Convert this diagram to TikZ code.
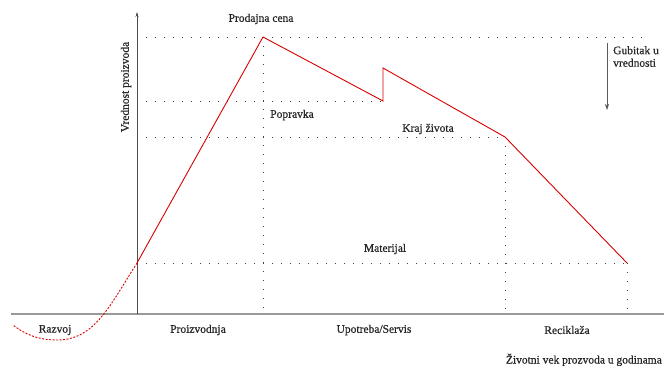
\documentclass[tikz,border=0pt]{standalone}
\usepackage{fontspec}
\setmainfont{Liberation Serif}
\newfontfamily\lblfont{Liberation Serif}[BoldFont={Liberation Serif},BoldFeatures={FakeBold=0.6}]
\usetikzlibrary{arrows.meta}
\begin{document}
\begin{tikzpicture}[x=1pt,y=-1pt,
  lbl/.style={font=\lblfont\bfseries\fontsize{11.5}{12.5}\selectfont, text=black!85, inner sep=1pt},
  guide/.style={line width=1pt, dash pattern=on 1pt off 8pt, black!75},
  curve/.style={red!85!black, line width=0.9pt, line join=miter},
  devcurve/.style={red!85!black, line width=0.9pt, dash pattern=on 2pt off 1.5pt}]
\useasboundingbox (0,0) rectangle (664,368);
% key points
\coordinate (O) at (137,314);
\coordinate (Ytop) at (137,12);
\coordinate (Xl) at (11,314);
\coordinate (Xr) at (664,314);
\coordinate (start) at (137,263);
\coordinate (peak) at (263,37);
\coordinate (rep) at (383,101);
\coordinate (repup) at (383,68);
\coordinate (eol) at (505,137);
\coordinate (mat) at (627,263);
\coordinate (topR) at (645,37);
\coordinate (peakB) at (263,314);
\coordinate (eolB) at (505,314);
\coordinate (matB) at (627,314);
\coordinate (repL) at (137,101);
\coordinate (eolL) at (137,137);
\coordinate (dev) at (13,325);
% guide lines
\draw[guide] (137,37) -- (topR);
\draw[guide] (repL) -- (rep);
\draw[guide] (eolL) -- (eol);
\draw[guide] (start) -- (mat);
\draw[guide] (peak) -- (peakB);
\draw[guide] (eol) -- (eolB);
\draw[guide] (mat) -- (matB);
% axes
\draw[gray!80, line width=1.2pt] (Xl) -- (Xr);
\draw[black!70, line width=0.6pt, -{Stealth[length=5pt,width=3pt]}] (O) -- (Ytop);
% value curve
\draw[curve] (start) -- (peak) -- (rep) -- (repup) -- (eol) -- (mat);
\draw[devcurve] (start) .. controls (110,305) and (95,340) .. (57,340) .. controls (35,340) and (22,332) .. (dev);
% loss arrow
\coordinate (gA) at (607,43);
\coordinate (gB) at (607,110);
\draw[black!65, line width=0.6pt, -{Stealth[length=6pt,width=4pt]}] (gA) -- (gB);
% labels
\node[lbl] (pc) at (261,19) {Prodajna cena};
\node[lbl, rotate=90] (vp) at (126,87) {Vrednost proizvoda};
\node[lbl] (pop) at (292,115) {Popravka};
\node[lbl, anchor=north west, align=left] (gub) at (612,45) {Gubitak u\\vrednosti};
\node[lbl] (kz) at (428,129) {Kraj života};
\node[lbl] (mt) at (385,249) {Materijal};
\node[lbl] (rz) at (55,330) {Razvoj};
\node[lbl] (pr) at (198,330) {Proizvodnja};
\node[lbl] (us) at (374,330) {Upotreba/Servis};
\node[lbl] (rc) at (567,330) {Reciklaža};
\node[lbl, anchor=base east] (zv) at (663,363.5) {Životni vek prozvoda u godinama};
\end{tikzpicture}
\end{document}
